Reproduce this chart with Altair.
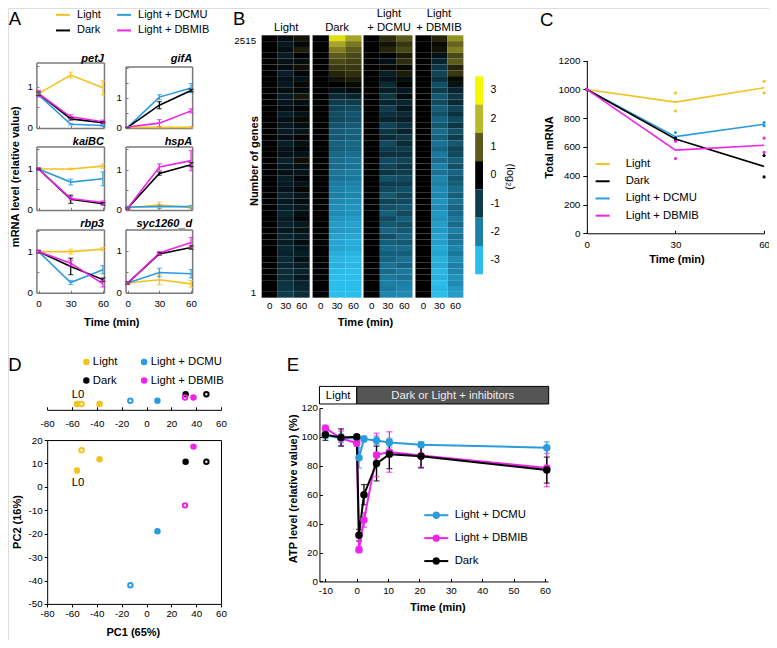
import altair as alt
import pandas as pd

W, H = 761, 632
SX, SY = W / 777, H / 648


def cx(v):
    return v * SX


def cy(v):
    return v * SY


FONT = "Liberation Sans"
GRAY = "#7a7a7a"
LIGHT, DARK, DCMU, DBMIB = "Light", "Dark", "Light + DCMU", "Light + DBMIB"
COLOR = {LIGHT: "#F4C21E", DARK: "#000000", DCMU: "#2A9CDE", DBMIB: "#EE24E8"}

# ---------------- Panel A data ----------------
A_TIMES = [0, 30, 60]
PETJ_MEAN = {LIGHT: [0.83, 1.28, 0.97], DCMU: [0.80, 0.09, 0.06], DARK: [0.83, 0.22, 0.13], DBMIB: [0.83, 0.27, 0.15]}
PETJ_ERR = {LIGHT: [0.04, 0.07, 0.17], DCMU: [0.04, 0.02, 0.02], DARK: [0.04, 0.03, 0.02], DBMIB: [0.08, 0.05, 0.04]}
GIFA_MEAN = {LIGHT: [0.02, 0.02, 0.02], DCMU: [0.02, 1.03, 1.33], DARK: [0.02, 0.76, 1.25], DBMIB: [0.03, 0.16, 0.57]}
GIFA_ERR = {LIGHT: [0.01, 0.01, 0.01], DCMU: [0.01, 0.08, 0.15], DARK: [0.01, 0.12, 0.04], DBMIB: [0.01, 0.12, 0.07]}
KAIBC_MEAN = {LIGHT: [1.0, 1.0, 1.07], DCMU: [1.0, 0.68, 0.76], DARK: [1.0, 0.26, 0.15], DBMIB: [1.0, 0.28, 0.18]}
KAIBC_ERR = {LIGHT: [0.02, 0.02, 0.05], DCMU: [0.02, 0.07, 0.17], DARK: [0.02, 0.10, 0.03], DBMIB: [0.03, 0.04, 0.04]}
HSPA_MEAN = {LIGHT: [0.05, 0.12, 0.06], DCMU: [0.07, 0.08, 0.08], DARK: [0.04, 0.90, 1.12], DBMIB: [0.04, 1.06, 1.22]}
HSPA_ERR = {LIGHT: [0.02, 0.07, 0.02], DCMU: [0.02, 0.04, 0.03], DARK: [0.02, 0.04, 0.05], DBMIB: [0.02, 0.08, 0.25]}
RBP3_MEAN = {LIGHT: [1.0, 1.0, 1.06], DCMU: [1.0, 0.25, 0.56], DARK: [1.0, 0.64, 0.32], DBMIB: [1.0, 0.72, 0.22]}
RBP3_ERR = {LIGHT: [0.03, 0.06, 0.04], DCMU: [0.03, 0.05, 0.10], DARK: [0.03, 0.20, 0.04], DBMIB: [0.03, 0.07, 0.08]}
SYC_MEAN = {LIGHT: [0.23, 0.31, 0.21], DCMU: [0.23, 0.48, 0.45], DARK: [0.23, 0.92, 1.07], DBMIB: [0.23, 0.94, 1.19]}
SYC_ERR = {LIGHT: [0.03, 0.12, 0.08], DCMU: [0.03, 0.10, 0.10], DARK: [0.03, 0.03, 0.04], DBMIB: [0.03, 0.04, 0.12]}

# ---------------- Panel B data (log2 ratio, rows from gene 2515 down to gene 1) ----------------
HEAT_TIMES = ["0", "30", "60"]
N_GENES = 2515
LIGHT_30 = [-0.2, -0.4, -0.25, -0.45, -0.3, -0.2, -0.5, -0.3, -0.4, -0.25,
            -0.45, -0.35, -0.2, -0.5, -0.3, -0.4, -0.45, -0.25, -0.5, -0.35,
            -0.3, -0.55, -0.4, -0.3, -0.5, -0.45, -0.35, -0.55, -0.4, -0.5,
            -0.6, -0.45, -0.55, -0.4, -0.6, -0.5, -0.65, -0.55, -0.7, -0.6,
            -0.75, -0.7, -0.85, -0.9, -1.0]
LIGHT_60 = [0.2, -0.1, 0.3, 0.0, -0.2, 0.15, -0.1, -0.3, 0.1, -0.15,
            0.25, -0.2, -0.05, -0.3, 0.1, -0.2, -0.35, 0.05, -0.25, -0.1,
            -0.3, 0.15, -0.25, -0.35, -0.1, -0.3, 0.05, -0.35, -0.2, -0.4,
            -0.25, -0.1, -0.4, -0.3, -0.45, -0.2, -0.4, -0.5, -0.3, -0.45,
            -0.55, -0.4, -0.6, -0.65, -0.75]
DARK_30 = [2.6, 1.8, 1.4, 1.0, 0.8, 0.6, 0.4, 0.2, 0.0, -0.3,
           -0.7, -1.0, -1.1, -1.25, -1.2, -1.35, -1.45, -1.4, -1.55, -1.5,
           -1.65, -1.75, -1.7, -1.85, -1.8, -1.95, -2.05, -2.0, -2.15, -2.25,
           -2.2, -2.35, -2.45, -2.4, -2.55, -2.65, -2.6, -2.75, -2.85, -2.8,
           -2.95, -3.05, -3.1, -3.2, -3.3]
DARK_60 = [1.8, 1.3, 1.0, 0.8, 0.7, 0.6, 0.5, 0.3, 0.1, -0.2,
           -0.6, -1.0, -1.2, -1.35, -1.3, -1.45, -1.55, -1.5, -1.65, -1.6,
           -1.75, -1.85, -1.8, -1.95, -1.9, -2.05, -2.15, -2.1, -2.25, -2.35,
           -2.3, -2.45, -2.55, -2.5, -2.65, -2.75, -2.7, -2.85, -2.95, -2.9,
           -3.05, -3.15, -3.2, -3.3, -3.4]
DCMU_30 = [0.5, 0.2, 0.4, 0.0, -0.3, 0.1, -0.5, -0.3, -0.7, -0.5,
           -0.9, -0.6, -1.0, -0.8, -0.6, -1.1, -0.9, -0.7, -1.2, -1.0,
           -0.8, -1.2, -1.1, -0.9, -1.3, -1.0, -1.2, -1.4, -1.1, -1.3,
           -1.5, -1.2, -1.4, -1.6, -1.3, -1.5, -1.7, -1.5, -1.6, -1.8,
           -1.7, -1.9, -2.0, -1.9, -2.1]
DCMU_60 = [1.0, 0.6, 0.8, 0.3, 0.5, 0.1, 0.3, -0.2, 0.0, -0.4,
           -0.2, -0.6, -0.4, -0.7, -0.5, -0.8, -0.6, -0.9, -0.7, -1.0,
           -0.8, -1.1, -0.9, -1.0, -1.2, -1.0, -1.3, -1.1, -1.2, -1.4,
           -1.2, -1.5, -1.3, -1.4, -1.6, -1.4, -1.7, -1.5, -1.8, -1.6,
           -1.9, -1.8, -2.0, -2.1, -2.2]
DBMIB_30 = [0.4, 0.1, 0.2, -0.3, -0.6, -0.9, -1.1, -0.8, -1.3, -1.0,
            -1.4, -1.2, -1.5, -1.3, -1.6, -1.4, -1.7, -1.5, -1.8, -1.6,
            -1.9, -1.7, -2.0, -1.8, -2.1, -2.0, -2.2, -2.1, -2.3, -2.2,
            -2.4, -2.3, -2.5, -2.4, -2.6, -2.5, -2.7, -2.6, -2.8, -2.7,
            -2.9, -2.8, -3.0, -2.9, -3.0]
DBMIB_60 = [1.6, 1.1, 1.4, 0.8, 1.0, 0.4, 0.6, 0.1, -0.3, -0.6,
            -0.9, -0.7, -1.1, -0.8, -1.2, -0.9, -1.3, -1.0, -1.4, -1.1,
            -1.2, -1.5, -1.3, -1.6, -1.4, -1.5, -1.7, -1.5, -1.8, -1.6,
            -1.7, -1.9, -1.7, -2.0, -1.8, -1.9, -2.1, -1.9, -2.2, -2.0,
            -2.1, -2.3, -2.2, -2.4, -2.5]
HEAT_LEGEND = ["3", "2", "1", "0", "-1", "-2", "-3"]
HEAT_COLORS = ["#2BBDEB", "#1C7FA6", "#0E3C4D", "#000000", "#5B5B1C", "#B8B82A", "#F7F700"]

# ---------------- Panel C data ----------------
C_TIMES = [0, 30, 60]
C_MEAN = {LIGHT: [1000, 912, 1012], DCMU: [1000, 672, 758], DARK: [1000, 656, 465], DBMIB: [1000, 578, 612]}
C_REPS = {LIGHT: [[1000], [975, 850], [1057, 975]],
          DCMU: [[1000], [700, 645], [770, 748]],
          DARK: [[1000], [662, 648], [540, 392]],
          DBMIB: [[1000], [640, 520], [662, 562]]}

# ---------------- Panel D data ----------------
D_COND = [LIGHT, LIGHT, LIGHT, DCMU, DCMU, DARK, DARK, DBMIB, DBMIB]
D_PC1 = [-56.0, -52.3, -37.8, -13.0, 8.8, 31.5, 48.2, 31.0, 37.8]
D_PC2 = [7.0, 15.7, 11.8, -42.0, -19.0, 10.7, 10.7, -7.9, 17.2]
D_OPEN = [False, True, False, True, False, False, True, True, False]
D_LABEL = ["L0", "", "", "", "", "", "", "", ""]

# ---------------- Panel E data ----------------
E_TIME = [-10, -5, 0, 0.7, 2.3, 6.3, 10.4, 20.5, 60.6]
E_MEAN = {DCMU: [101, 99, 99, 85.5, 98.5, 97.5, 96, 94.5, 92.5],
          DBMIB: [106, 99, 95.5, 22, 42.5, 87.5, 89.5, 87, 78.5],
          DARK: [101.5, 99.5, 100, 32, 60, 81.5, 88, 86.5, 77]}
E_ERR = {DCMU: [2, 3, 1, 7, 2, 3, 3, 2, 4],
         DBMIB: [2, 5, 2, 2, 5, 15, 14, 8, 13],
         DARK: [4, 6, 1, 4, 7, 12, 10, 8, 9]}
E_PHASE = ["Light", "Dark or Light + inhibitors"]
E_PHASE_START = [-11.9, 0]
E_PHASE_END = [0, 61.2]

layers = []


def cscale(order):
    return alt.Scale(domain=order, range=[COLOR[c] for c in order])


def ax_x(orient, ypos, **kw):
    off = cy(ypos) - H if orient == "bottom" else -cy(ypos)
    d = dict(orient=orient, offset=off, grid=False, title=None, labelFont=FONT, labelFontSize=9.8,
             labelColor="black", domainColor="black", tickColor="black", tickSize=3, labelPadding=2,
             labelFlush=False, labelOverlap=False)
    d.update(kw)
    return alt.Axis(**d)


def ax_y(orient, xpos, **kw):
    off = -cx(xpos) if orient == "left" else cx(xpos) - W
    d = dict(orient=orient, offset=off, grid=False, title=None, labelFont=FONT, labelFontSize=9.8,
             labelColor="black", domainColor="black", tickColor="black", tickSize=3, labelPadding=2,
             labelOverlap=False)
    d.update(kw)
    return alt.Axis(**d)


def legend(**kw):
    d = dict(orient="none", title=None, padding=0, labelFont=FONT, labelFontSize=11,
             labelColor="black", labelLimit=0)
    d.update(kw)
    return alt.Legend(**d)


def txt(t, x, y, size=11, weight="normal", style="normal", align="center", angle=0, color="black"):
    return alt.Chart(pd.DataFrame({"t": [t]})).mark_text(
        fontSize=size, fontWeight=weight, fontStyle=style, align=align, baseline="middle",
        angle=angle, color=color, font=FONT).encode(
        x=alt.value(cx(x)), y=alt.value(cy(y)), text="t:N")


NUM = "'' + datum.value"

# ================= Panel A =================
A_LEG = [LIGHT, DARK, DCMU, DBMIB]      # legend fills column by column
A_DRAW = [LIGHT, DCMU, DARK, DBMIB]
A_PANELS = [
    ("petJ", PETJ_MEAN, PETJ_ERR, (29, 98, 56, 123), 1.58, 52, False),
    ("gifA", GIFA_MEAN, GIFA_ERR, (120, 188, 60, 123), 2.05, 52, False),
    ("kaiBC", KAIBC_MEAN, KAIBC_ERR, (29, 98, 142, 207), 1.55, 137, False),
    ("hspA", HSPA_MEAN, HSPA_ERR, (120, 188, 142, 207), 1.57, 137, False),
    ("rbp3", RBP3_MEAN, RBP3_ERR, (29, 98, 227, 292), 1.54, 221, True),
    ("syc1260_d", SYC_MEAN, SYC_ERR, (120, 188, 227, 292), 1.5, 221, True),
]
for i, (gene, mean, err, box, ymax, ty, bottom) in enumerate(A_PANELS):
    x0, x1, y0, y1 = box
    rows = []
    for c in A_DRAW:
        for t, m, e in zip(A_TIMES, mean[c], err[c]):
            rows.append({"cond": c, "t": t, "m": m, "lo": m - e, "hi": m + e})
    df = pd.DataFrame(rows)
    caps = pd.concat([df[["cond", "t"]].assign(v=df["lo"]), df[["cond", "t"]].assign(v=df["hi"])],
                     ignore_index=True)
    xs = alt.Scale(domain=[-2, 61], range=[cx(x0), cx(x1)], nice=False, zero=False)
    ys = alt.Scale(domain=[0, ymax], range=[cy(y1), cy(y0)], nice=False, zero=False)
    yt = [v for v in [0, 0.5, 1, 1.5, 2] if v <= ymax]
    lg = None
    if i == 0:
        lg = legend(legendX=cx(48), legendY=cy(6) - 7, columns=2, symbolType="stroke",
                    symbolSize=196, symbolStrokeWidth=2, labelOffset=6, columnPadding=12, rowPadding=2.6)
    bk = dict(domainColor=GRAY, domainWidth=1.5)
    layers.append(alt.Chart(df).mark_line(strokeWidth=1.6).encode(
        x=alt.X("t:Q", scale=xs, axis=ax_x("bottom", y1, values=A_TIMES, labels=bottom, ticks=False,
                                             labelPadding=6, **bk)),
        y=alt.Y("m:Q", scale=ys, axis=ax_y("left", x0, values=yt, ticks=False, labelPadding=4,
                                             labelExpr="(datum.value == 0 || datum.value == 1) ? '' + datum.value : ''",
                                             **bk)),
        color=alt.Color("cond:N", scale=cscale(A_LEG), legend=lg)))
    layers.append(alt.Chart(df).mark_rule(strokeWidth=1.2).encode(
        x=alt.X("t:Q", scale=xs, axis=ax_x("top", y0, ticks=False, labels=False, **bk)),
        y=alt.Y("lo:Q", scale=ys, axis=ax_y("right", x1, ticks=False, labels=False, **bk)),
        y2="hi:Q",
        color=alt.Color("cond:N", scale=cscale(A_LEG), legend=None)))
    layers.append(alt.Chart(caps).mark_tick(orient="horizontal", size=5, thickness=1.2).encode(
        x=alt.X("t:Q", scale=xs, axis=ax_x("top", y1, values=A_TIMES, labels=False, domain=False,
                                             tickSize=2.5, tickColor=GRAY)),
        y=alt.Y("v:Q", scale=ys, axis=ax_y("right", x0, values=yt, labels=False, domain=False,
                                             tickSize=2.5, tickColor=GRAY)),
        color=alt.Color("cond:N", scale=cscale(A_LEG), legend=None)))
    layers.append(txt(gene, x1, ty, size=11, weight="bold", style="italic", align="right"))

layers.append(txt("A", 7, 11.5, size=18.5))
layers.append(txt("mRNA level (relative value)", 8, 173, size=11, weight="bold", angle=270))
layers.append(txt("Time (min)", 106, 323, size=11, weight="bold"))

# ================= Panel B =================
heat_scale = alt.Scale(domain=[-3, -2, -1, 0, 1, 2, 3], range=HEAT_COLORS, clamp=True, interpolate="rgb")
heat_ys = alt.Scale(domain=[0, N_GENES], range=[cy(297), cy(28)], nice=False, zero=False)
B_PANELS = [(LIGHT, LIGHT_30, LIGHT_60, 259, 308), (DARK, DARK_30, DARK_60, 311, 361),
            (DCMU, DCMU_30, DCMU_60, 363, 413), (DBMIB, DBMIB_30, DBMIB_60, 416, 465)]
for j, (cond, v30, v60, xl, xr) in enumerate(B_PANELS):
    n = len(v30)
    rows = []
    for k in range(n):
        hi = N_GENES - k * N_GENES / n
        lo = N_GENES - (k + 1) * N_GENES / n
        for t, v in zip(HEAT_TIMES, [0.0, v30[k], v60[k]]):
            rows.append({"t": t, "lo": lo, "hi": hi, "v": v})
    df = pd.DataFrame(rows)
    yax = None
    if j == 0:
        yax = ax_y("left", xl, values=[1, N_GENES], ticks=False, domain=False, labelFlush=True,
                   labelPadding=6, labelExpr=NUM)
    layers.append(alt.Chart(df).mark_rect().encode(
        x=alt.X("t:O", sort=HEAT_TIMES,
                scale=alt.Scale(domain=HEAT_TIMES, range=[cx(xl), cx(xr)], paddingInner=0, paddingOuter=0),
                axis=ax_x("bottom", 297, ticks=False, domain=False, labelPadding=3, labelAngle=0)),
        y=alt.Y("lo:Q", scale=heat_ys, axis=yax),
        y2="hi:Q",
        color=alt.Color("v:Q", scale=heat_scale, legend=None)))

leg_df = pd.DataFrame({"lab": HEAT_LEGEND, "v": [float(s) for s in HEAT_LEGEND], "k": ["c"] * 7})
layers.append(alt.Chart(leg_df).mark_rect().encode(
    x=alt.X("k:N", scale=alt.Scale(domain=["c"], range=[cx(477), cx(485)], paddingInner=0, paddingOuter=0),
            axis=None),
    y=alt.Y("lab:O", sort=HEAT_LEGEND,
            scale=alt.Scale(domain=HEAT_LEGEND, range=[cy(70), cy(273)], paddingInner=0, paddingOuter=0),
            axis=ax_y("right", 485, ticks=False, domain=False, labelPadding=7, labelFontSize=10.5)),
    color=alt.Color("v:Q", scale=heat_scale, legend=None)))

layers.append(txt("B", 236, 11.5, size=18.5))
layers.append(txt("Light", 284, 20, size=11.3))
layers.append(txt("Dark", 336, 20, size=11.3))
layers.append(txt("Light", 389, 6.5, size=11.3))
layers.append(txt("+ DCMU", 389, 20, size=11.3))
layers.append(txt("Light", 440, 6.5, size=11.3))
layers.append(txt("+ DBMIB", 440, 20, size=11.3))
layers.append(txt("Number of genes", 252, 157, size=11, weight="bold", angle=270))
layers.append(txt("Time (min)", 365, 323, size=11, weight="bold"))
layers.append(txt("(log\u2082)", 513, 173, size=11, angle=90))

# ================= Panel C =================
C_ORDER = [LIGHT, DARK, DCMU, DBMIB]
C_DRAW = [LIGHT, DCMU, DARK, DBMIB]
cm = pd.DataFrame([{"cond": c, "t": t, "m": m} for c in C_DRAW for t, m in zip(C_TIMES, C_MEAN[c])])
cr = pd.DataFrame([{"cond": c, "t": t, "v": v} for c in C_DRAW for t, reps in zip(C_TIMES, C_REPS[c])
                   for v in reps])
c_xs = alt.Scale(domain=[0, 60], range=[cx(591), cx(772)], nice=False, zero=False)
c_ys = alt.Scale(domain=[0, 1200], range=[cy(231), cy(54)], nice=False, zero=False)
layers.append(alt.Chart(cm).mark_line(strokeWidth=1.6).encode(
    x=alt.X("t:Q", scale=c_xs, axis=ax_x("bottom", 231, values=C_TIMES, ticks=False, labelPadding=6)),
    y=alt.Y("m:Q", scale=c_ys, axis=ax_y("left", 591, values=[0, 200, 400, 600, 800, 1000, 1200],
                                           tickSize=4, labelPadding=3, labelExpr=NUM)),
    color=alt.Color("cond:N", scale=cscale(C_ORDER),
                    legend=legend(legendX=cx(599), legendY=cy(159) - 7, symbolType="stroke",
                                  symbolSize=196, symbolStrokeWidth=2, labelOffset=15, rowPadding=3.2,
                                  labelFontSize=11.3))))
layers.append(alt.Chart(cr).mark_circle(size=10, opacity=1).encode(
    x=alt.X("t:Q", scale=c_xs, axis=ax_x("top", 231, values=C_TIMES, labels=False, domain=False, tickSize=3)),
    y=alt.Y("v:Q", scale=c_ys, axis=None),
    color=alt.Color("cond:N", scale=cscale(C_ORDER), legend=None)))
layers.append(txt("C", 550, 12, size=18.5))
layers.append(txt("Total mRNA", 553, 143, size=11, weight="bold", angle=270))
layers.append(txt("Time (min)", 683, 258, size=11, weight="bold"))

# ================= Panel D =================
D_ORDER = [LIGHT, DARK, DCMU, DBMIB]
dd = pd.DataFrame({"cond": D_COND, "pc1": D_PC1, "pc2": D_PC2, "open": D_OPEN, "lab": D_LABEL})
d_fill = dd[~dd["open"]]
d_open = dd[dd["open"]]
d_lab = dd[dd["lab"] != ""]
d_xs = alt.Scale(domain=[-80, 60], range=[cx(40), cx(217.5)], nice=False, zero=False)
s_ys = alt.Scale(type="point", domain=[LIGHT, DCMU, DBMIB, DARK], range=[cy(406), cy(396)], padding=0)
d_ys = alt.Scale(domain=[-50, 20], range=[cy(611), cy(443)], nice=False, zero=False)
D_XT = [-80, -60, -40, -20, 0, 20, 40, 60]
D_YT = [-50, -40, -30, -20, -10, 0, 10, 20]
# legend (2 columns: Light/Dark, then the two inhibitors)
dleg = pd.DataFrame({"cond": D_ORDER,
                     "col": ["c%d" % (k // 2 + 1) for k in range(len(D_ORDER))],
                     "row": ["r%d" % (k % 2 + 1) for k in range(len(D_ORDER))]})
leg_x = alt.X("col:N", scale=alt.Scale(type="point", domain=["c1", "c2"], range=[cx(80), cx(139)], padding=0),
              axis=None)
leg_y = alt.Y("row:N", scale=alt.Scale(type="point", domain=["r1", "r2"], range=[cy(363), cy(382)], padding=0),
              axis=None)
layers.append(alt.Chart(dleg).mark_circle(size=42, opacity=1).encode(
    x=leg_x, y=leg_y, color=alt.Color("cond:N", scale=cscale(D_ORDER), legend=None)))
layers.append(alt.Chart(dleg).mark_text(font=FONT, fontSize=11.3, align="left", dx=6.5).encode(
    x=leg_x, y=leg_y, text="cond:N"))
# strip (PC1 only)
layers.append(alt.Chart(d_fill).mark_circle(size=42, opacity=1).encode(
    x=alt.X("pc1:Q", scale=d_xs, axis=ax_x("bottom", 412, values=D_XT, ticks=False, labelPadding=9,
                                             labelExpr=NUM)),
    y=alt.Y("cond:N", scale=s_ys, axis=None),
    color=alt.Color("cond:N", scale=cscale(D_ORDER), legend=None)))
layers.append(alt.Chart(d_open).mark_point(size=20, filled=False, strokeWidth=2, opacity=1).encode(
    x=alt.X("pc1:Q", scale=d_xs, axis=ax_x("top", 412, values=D_XT, labels=False, domain=False, tickSize=3)),
    y=alt.Y("cond:N", scale=s_ys, axis=None),
    color=alt.Color("cond:N", scale=cscale(D_ORDER), legend=None)))
layers.append(alt.Chart(d_lab).mark_text(font=FONT, fontSize=11.3, dy=-8.5, dx=1).encode(
    x=alt.X("pc1:Q", scale=d_xs, axis=None),
    y=alt.Y("cond:N", scale=s_ys, axis=None),
    text="lab:N"))
# scatter PC1 x PC2
layers.append(alt.Chart(d_fill).mark_circle(size=42, opacity=1).encode(
    x=alt.X("pc1:Q", scale=d_xs, axis=ax_x("bottom", 611, values=D_XT, tickSize=3, labelPadding=2,
                                             labelExpr=NUM)),
    y=alt.Y("pc2:Q", scale=d_ys, axis=ax_y("left", 40, values=D_YT, tickSize=3, labelPadding=2,
                                             labelExpr=NUM)),
    color=alt.Color("cond:N", scale=cscale(D_ORDER), legend=None)))
layers.append(alt.Chart(d_open).mark_point(size=20, filled=False, strokeWidth=2, opacity=1).encode(
    x=alt.X("pc1:Q", scale=d_xs, axis=ax_x("top", 443, ticks=False, labels=False)),
    y=alt.Y("pc2:Q", scale=d_ys, axis=ax_y("right", 217.5, ticks=False, labels=False)),
    color=alt.Color("cond:N", scale=cscale(D_ORDER), legend=None)))
layers.append(alt.Chart(d_lab).mark_text(font=FONT, fontSize=11.3, dy=13, dx=1).encode(
    x=alt.X("pc1:Q", scale=d_xs, axis=None),
    y=alt.Y("pc2:Q", scale=d_ys, axis=None),
    text="lab:N"))
layers.append(txt("D", 7, 366, size=18.5))
layers.append(txt("PC1 (65%)", 128, 641, size=11, weight="bold"))
layers.append(txt("PC2 (16%)", 10, 527, size=11, weight="bold", angle=270))

# ================= Panel E =================
E_ORDER = [DCMU, DBMIB, DARK]
em = []
for c in E_ORDER:
    for t, m, e in zip(E_TIME, E_MEAN[c], E_ERR[c]):
        em.append({"cond": c, "t": t, "m": m, "lo": m - e, "hi": m + e})
em = pd.DataFrame(em)
ecaps = pd.concat([em[["cond", "t"]].assign(v=em["lo"]), em[["cond", "t"]].assign(v=em["hi"])],
                  ignore_index=True)
e_xs = alt.Scale(domain=[-11.9, 61], range=[cx(318), cx(551.4)], nice=False, zero=False)
e_ys = alt.Scale(domain=[0, 120], range=[cy(588), cy(410)], nice=False, zero=False)
E_XT = [-10, 0, 10, 20, 30, 40, 50, 60]
E_YT = [0, 20, 40, 60, 80, 100, 120]
ph = pd.DataFrame({"phase": E_PHASE, "s": E_PHASE_START, "e": E_PHASE_END})
ph["mid"] = (ph["s"] + ph["e"]) / 2
layers.append(alt.Chart(ph).mark_rect(stroke="black", strokeWidth=1).encode(
    x=alt.X("s:Q", scale=e_xs, axis=None), x2="e:Q",
    y=alt.value(cy(388)), y2=alt.value(cy(406)),
    fill=alt.Fill("phase:N", scale=alt.Scale(domain=E_PHASE, range=["#ffffff", "#555555"]), legend=None)))
layers.append(alt.Chart(ph).mark_text(font=FONT, fontSize=11.3).encode(
    x=alt.X("mid:Q", scale=e_xs, axis=None), y=alt.value(cy(397.5)), text="phase:N",
    color=alt.Color("phase:N", scale=alt.Scale(domain=E_PHASE, range=["#000000", "#eeeeee"]), legend=None)))
layers.append(alt.Chart(em).mark_rule(strokeWidth=1.3).encode(
    x=alt.X("t:Q", scale=e_xs, axis=ax_x("top", 588, values=E_XT, labels=False, domain=False, tickSize=3)),
    y=alt.Y("lo:Q", scale=e_ys, axis=ax_y("right", 318, values=E_YT, labels=False, domain=False, tickSize=3)),
    y2="hi:Q",
    color=alt.Color("cond:N", scale=cscale(E_ORDER), legend=None)))
layers.append(alt.Chart(ecaps).mark_tick(orient="horizontal", size=6, thickness=1.3).encode(
    x=alt.X("t:Q", scale=e_xs, axis=None),
    y=alt.Y("v:Q", scale=e_ys, axis=None),
    color=alt.Color("cond:N", scale=cscale(E_ORDER), legend=None)))
E_LINE_SYMBOL = "M-2,0H2"
E_DOT_SYMBOL = "M-0.62,0A0.62,0.62,0,1,1,0.62,0A0.62,0.62,0,1,1,-0.62,0Z"
e_leg = dict(legendX=cx(424) + 6, legendY=cy(519) - 6, symbolSize=144, labelOffset=cx(454) - cx(424) - 18,
             rowPadding=22.5 * SY - 12, labelFontSize=11.3)
layers.append(alt.Chart(em).mark_line(strokeWidth=2).encode(
    x=alt.X("t:Q", scale=e_xs, axis=ax_x("bottom", 588, values=E_XT, ticks=False, labelPadding=4,
                                           labelExpr=NUM)),
    y=alt.Y("m:Q", scale=e_ys, axis=ax_y("left", 318, values=E_YT, ticks=False, labelPadding=2)),
    color=alt.Color("cond:N", scale=cscale(E_ORDER),
                    legend=legend(symbolType=E_LINE_SYMBOL, symbolStrokeWidth=2, **e_leg))))
layers.append(alt.Chart(em).mark_circle(size=56, opacity=1).encode(
    x=alt.X("t:Q", scale=e_xs, axis=None),
    y=alt.Y("m:Q", scale=e_ys, axis=None),
    color=alt.Color("cond:N", scale=cscale(E_ORDER),
                    legend=legend(symbolType=E_DOT_SYMBOL, labelOpacity=0, **e_leg))))
layers.append(txt("E", 291, 366, size=18.5))
layers.append(txt("Time (min)", 439, 615, size=11, weight="bold"))
layers.append(txt("ATP level (relative value) (%)", 292, 493, size=11, weight="bold", angle=270))

chans = dict(x="independent", y="independent", color="independent", fill="independent")
chart = alt.layer(*layers).resolve_scale(**chans).resolve_axis(
    x="independent", y="independent").resolve_legend(color="independent", fill="independent").properties(
    width=W, height=H, padding=0, autosize=alt.AutoSizeParams(type="none"), background="white"
).configure_view(stroke=None).configure(font=FONT)

chart.save("out.html", embed_options={"renderer": "svg", "actions": False})
